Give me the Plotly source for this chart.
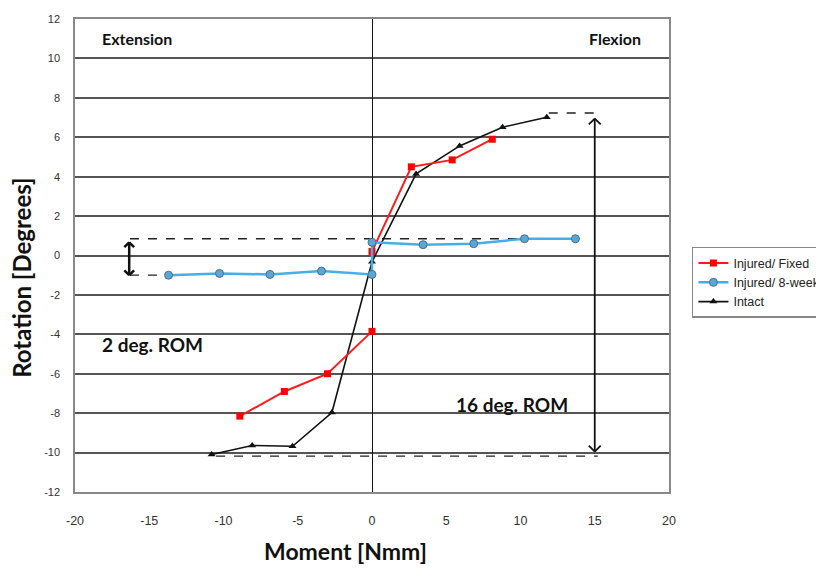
import plotly.graph_objects as go

# ---- data ----
fixed_x = [-8.9, -5.9, -3.0, 0.0, None, 0.0, 2.65, 5.4, 8.1]
fixed_y = [-8.15, -6.9, -6.0, -3.85, None, 0.2, 4.5, 4.85, 5.9]

week8_x = [-13.7, -10.27, -6.87, -3.4, 0.0, 0.0, 3.44, 6.85, 10.27, 13.7]
week8_y = [-1.0, -0.91, -0.96, -0.79, -0.96, 0.67, 0.55, 0.6, 0.85, 0.85]

intact_x = [-10.8, -8.07, -5.35, -2.7, 0.0, 2.97, 5.9, 8.79, 11.77]
intact_y = [-10.1, -9.64, -9.68, -7.97, -0.32, 4.14, 5.56, 6.51, 7.01]

x_ticks = [-20, -15, -10, -5, 0, 5, 10, 15, 20]
y_ticks = [-12, -10, -8, -6, -4, -2, 0, 2, 4, 6, 8, 10, 12]

# guide lines (dashed) : (x0, x1, y)
guides = [
    (-16.3, 13.7, 0.85),
    (-16.3, -13.7, -1.0),
    (11.9, 15.0, 7.23),
    (-10.5, 15.2, -10.18),
]
# double arrows : (x, y_top, y_bottom, half_width, head_height, width)
arrows = [
    (15.0, 6.95, -9.95, 0.4, 0.3, 1.8),
    (-16.35, 0.67, -1.0, 0.33, 0.25, 2.5),
]

fig = go.Figure()

fig.add_trace(go.Scatter(
    x=intact_x, y=intact_y, mode="lines+markers", name="Intact",
    line=dict(color="#111111", width=1.6),
    marker=dict(symbol="triangle-up", size=7, color="#111111"),
    legendrank=3,
))
fig.add_trace(go.Scatter(
    x=fixed_x, y=fixed_y, mode="lines+markers", name="Injured/ Fixed",
    line=dict(color="#ff1a1a", width=2), connectgaps=False,
    marker=dict(symbol="square", size=7, color="#ff0000"),
    legendrank=1,
))
fig.add_trace(go.Scatter(
    x=week8_x, y=week8_y, mode="lines+markers", name="Injured/ 8-week",
    line=dict(color="#45aee8", width=2.5),
    marker=dict(symbol="circle", size=8, color="#5aa7d6",
                line=dict(color="#4a6f8a", width=1)),
    legendrank=2,
))

shapes = []
for x0, x1, y in guides:
    shapes.append(dict(type="line", xref="x", yref="y", x0=x0, x1=x1, y0=y, y1=y,
                       line=dict(color="#222222", width=1.3, dash="dash"), layer="below"))
for ax, yt, yb, hw, hh, w in arrows:
    ln = dict(color="#111111", width=w)
    shapes.append(dict(type="line", xref="x", yref="y", x0=ax, x1=ax, y0=yt, y1=yb, line=ln))
    shapes.append(dict(type="line", xref="x", yref="y", x0=ax - hw, x1=ax, y0=yt - hh, y1=yt, line=ln))
    shapes.append(dict(type="line", xref="x", yref="y", x0=ax + hw, x1=ax, y0=yt - hh, y1=yt, line=ln))
    shapes.append(dict(type="line", xref="x", yref="y", x0=ax - hw, x1=ax, y0=yb + hh, y1=yb, line=ln))
    shapes.append(dict(type="line", xref="x", yref="y", x0=ax + hw, x1=ax, y0=yb + hh, y1=yb, line=ln))

bold = "Lato"
annotations = [
    dict(text="<b>Extension</b>", x=-18.3, y=11.0, xref="x", yref="y", xanchor="left",
         showarrow=False, font=dict(family=bold, size=16, color="#111")),
    dict(text="<b>Flexion</b>", x=18.25, y=11.0, xref="x", yref="y", xanchor="right",
         showarrow=False, font=dict(family=bold, size=16, color="#111")),
    dict(text="<b>2 deg. ROM</b>", x=-18.3, y=-4.5, xref="x", yref="y", xanchor="left",
         showarrow=False, font=dict(family=bold, size=19, color="#111")),
    dict(text="<b>16 deg. ROM</b>", x=5.5, y=-7.55, xref="x", yref="y", xanchor="left",
         showarrow=False, font=dict(family=bold, size=19, color="#111")),
    dict(text="<b>Moment [Nmm]</b>", x=0.455, y=-0.125, xref="paper", yref="paper",
         xanchor="center", yanchor="middle", showarrow=False,
         font=dict(family=bold, size=23, color="#111")),
    dict(text="<b>Rotation [Degrees]</b>", x=-0.089, y=0.453, xref="paper", yref="paper",
         xanchor="center", yanchor="middle", textangle=-90, showarrow=False,
         font=dict(family=bold, size=24, color="#111")),
]

fig.update_layout(
    width=824, height=570,
    margin=dict(l=67, r=161, t=5, b=86),
    paper_bgcolor="white", plot_bgcolor="white",
    showlegend=True,
    legend=dict(x=1.0386, y=0.518, xanchor="left", yanchor="top",
                bgcolor="white", bordercolor="#888888", borderwidth=1.5,
                font=dict(family="Liberation Sans", size=12.5, color="#222"),
                tracegroupgap=0),
    shapes=shapes,
    annotations=annotations,
    font=dict(family="Liberation Sans", size=11, color="#333"),
)
fig.update_xaxes(
    range=[-20, 20], tickvals=x_ticks, ticktext=[str(v) for v in x_ticks],
    showgrid=False, zeroline=True, zerolinecolor="#111111", zerolinewidth=1.2,
    showline=True, linecolor="#888888", linewidth=1.5, mirror=True,
    ticks="outside", ticklen=0, ticklabelstandoff=16,
    tickfont=dict(family="Liberation Sans", size=12.5, color="#333"),
)
fig.update_yaxes(
    range=[-12, 12], tickvals=y_ticks, ticktext=[str(v) for v in y_ticks],
    showgrid=True, gridcolor="#555555", gridwidth=1.5, zeroline=False,
    showline=True, linecolor="#888888", linewidth=1.5, mirror=True,
    ticks="outside", ticklen=0, ticklabelstandoff=11,
    tickfont=dict(family="Liberation Sans", size=11, color="#333"),
)

fig.write_html("out.html")
